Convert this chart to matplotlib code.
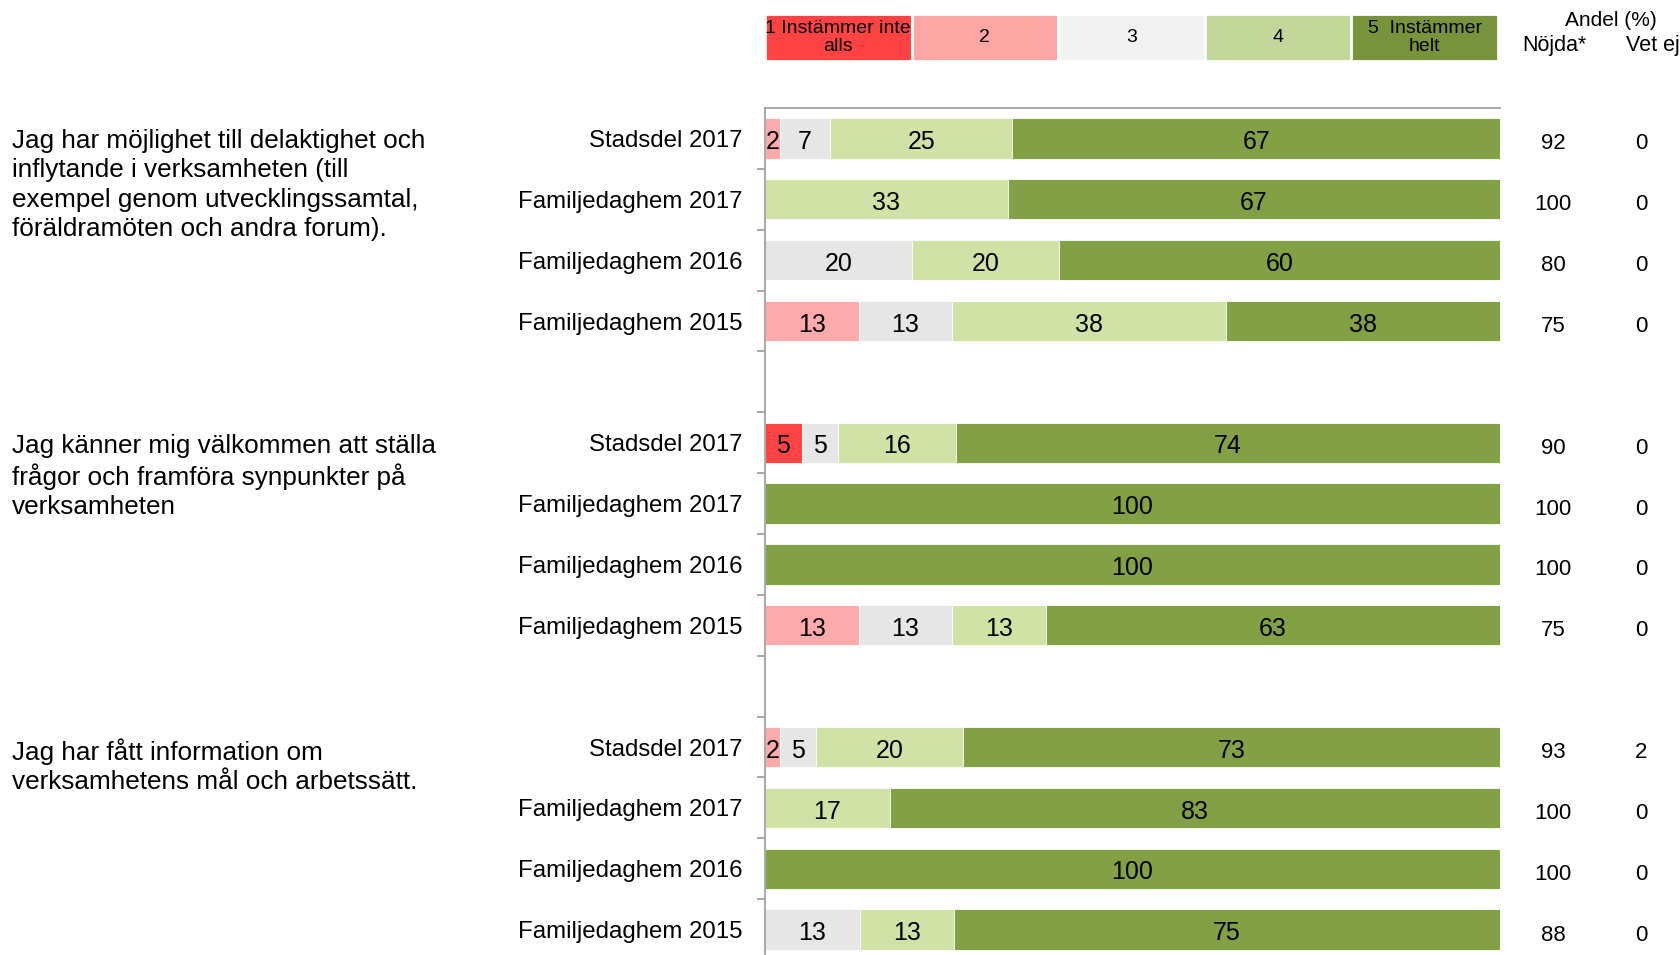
import numpy as np
import matplotlib.pyplot as plt
import matplotlib.transforms as mtrans

plt.rcParams['font.family'] = ['Liberation Sans', 'DejaVu Sans']

# response scale
scale_labels = ["1 Instämmer inte\nalls", "2", "3", "4", "5  Instämmer\nhelt"]
legend_colors = ["#ff4343", "#fca5a5", "#f2f2f2", "#c4d79b", "#77933c"]
bar_colors = ["#ff4444", "#ffaaaa", "#e6e6e6", "#d0e2a6", "#82a044"]

questions = [
    "Jag har möjlighet till delaktighet och\ninflytande i verksamheten (till\nexempel genom utvecklingssamtal,\nföräldramöten och andra forum).",
    "Jag känner mig välkommen att ställa\nfrågor och framföra synpunkter på\nverksamheten",
    "Jag har fått information om\nverksamhetens mål och arbetssätt.",
]
units = ["Stadsdel 2017", "Familjedaghem 2017", "Familjedaghem 2016", "Familjedaghem 2015"]

# shares per answer 1..5, one row per unit, one block per question
q1 = [[0, 2, 7, 25, 67],
      [0, 0, 0, 33, 67],
      [0, 0, 20, 20, 60],
      [0, 13, 13, 38, 38]]
q2 = [[5, 0, 5, 16, 74],
      [0, 0, 0, 0, 100],
      [0, 0, 0, 0, 100],
      [0, 13, 13, 13, 63]]
q3 = [[0, 2, 5, 20, 73],
      [0, 0, 0, 17, 83],
      [0, 0, 0, 0, 100],
      [0, 0, 13, 13, 75]]
nojda = [[92, 100, 80, 75], [90, 100, 100, 75], [93, 100, 100, 88]]
vet_ej = [[0, 0, 0, 0], [0, 0, 0, 0], [2, 0, 0, 0]]

blocks = [q1, q2, q3]

W, H = 1681, 955
fig = plt.figure(figsize=(W / 100, H / 100), dpi=100)

ax_l, ax_r, ax_t, ax_b = 765, 1500, 108, 960
ax = fig.add_axes([ax_l / W, 1 - ax_b / H, (ax_r - ax_l) / W, (ax_b - ax_t) / H])
ax.set_xlim(0, 100)
ax.set_ylim(13.5, -0.5)

# x in figure fraction, y in data rows
blend = mtrans.blended_transform_factory(fig.transFigure, ax.transData)

for g, block in enumerate(blocks):
    for r, row in enumerate(block):
        y = g * 5 + r
        vals = np.array(row, dtype=float)
        widths = vals / vals.sum() * 100
        left = 0
        for k in range(5):
            if vals[k] > 0:
                ax.barh(y, widths[k], left=left, height=0.66, color=bar_colors[k],
                        edgecolor="white", linewidth=0.6)
                ax.text(left + widths[k] / 2, y + 0.02, f"{row[k]:g}", ha="center",
                        va="center_baseline", fontsize=18)
            left += widths[k]
        ax.text(743 / W, y, units[r], transform=blend, ha="right", va="center_baseline",
                fontsize=17.3)
        ax.text(1553 / W, y + 0.05, str(nojda[g][r]), transform=blend, ha="center",
                va="center_baseline", fontsize=16, clip_on=False)
        ax.text(1641 / W, y + 0.05, str(vet_ej[g][r]), transform=blend, ha="center",
                va="center_baseline", fontsize=16, clip_on=False)
    ax.text(12 / W, g * 5 - 0.15, questions[g], transform=blend, ha="left", va="top",
            fontsize=18.8, linespacing=1.27)

for s in ["right", "bottom"]:
    ax.spines[s].set_visible(False)
for s in ["left", "top"]:
    ax.spines[s].set_color("#9a9a9a")
    ax.spines[s].set_linewidth(1.2)
ax.set_xticks([])
ax.set_yticks(np.arange(0.5, 13.5, 1))
ax.set_yticklabels([])
ax.tick_params(axis="y", length=6, color="#9a9a9a", width=1.2)

# legend strip
lg_l, lg_r, lg_t, lg_b = 765, 1498, 14, 61
lax = fig.add_axes([lg_l / W, 1 - lg_b / H, (lg_r - lg_l) / W, (lg_b - lg_t) / H])
lax.set_xlim(0, 5)
lax.set_ylim(0, 1)
lax.axis("off")
for k in range(5):
    lax.barh(0.5, 1, left=k, height=1, color=legend_colors[k], edgecolor="white", linewidth=2)
    lax.text(k + 0.5, 0.5, scale_labels[k], ha="center", va="center", fontsize=14,
             linespacing=1.12)

fig.text(1611 / W, 1 - 20 / H, "Andel (%)", ha="center", va="center", fontsize=15)
fig.text(1554 / W, 1 - 45 / H, "Nöjda*", ha="center", va="center", fontsize=15.5)
fig.text(1680 / W, 1 - 45 / H, "Vet ej", ha="right", va="center", fontsize=15.5)

fig.savefig("out.png", dpi=100)
